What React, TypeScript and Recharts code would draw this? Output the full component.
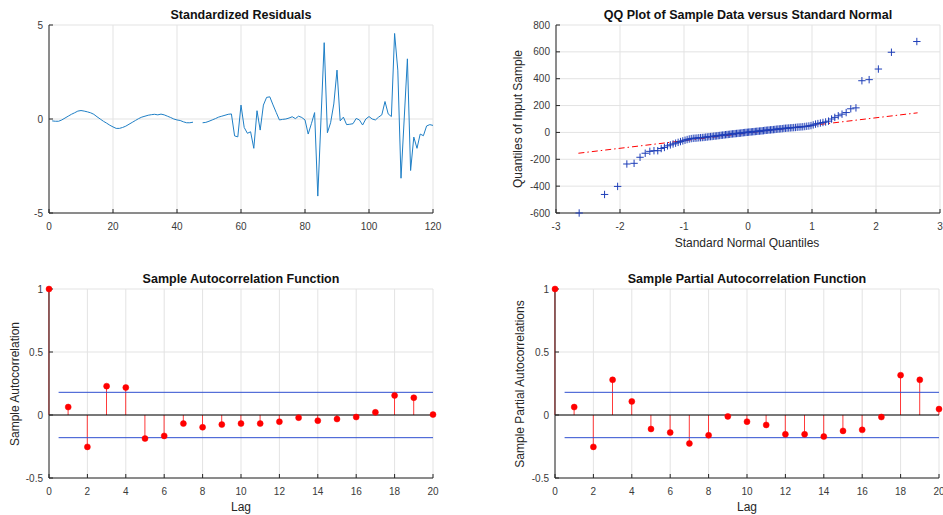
import React from 'react';
import {
  LineChart,
  Line,
  XAxis,
  YAxis,
  CartesianGrid,
  ScatterChart,
  Scatter,
  ComposedChart,
  Bar,
  ReferenceLine,
  ReferenceArea,
} from 'recharts';

const FONT = '"Liberation Sans", Arial, Helvetica, sans-serif';

// ---------- Standardized residuals (t = 1..120, null = gap) ----------
const residuals: (number | null)[] = [
  -0.10, -0.12, -0.12, -0.05, 0.05, 0.15, 0.25, 0.33, 0.42, 0.45,
  0.42, 0.38, 0.33, 0.25, 0.12, 0.00, -0.12, -0.22, -0.33, -0.42,
  -0.50, -0.50, -0.45, -0.38, -0.28, -0.18, -0.08, 0.02, 0.10, 0.15,
  0.20, 0.23, 0.25, 0.22, 0.26, 0.22, 0.15, 0.08, 0.00, -0.05,
  -0.08, -0.15, -0.20, -0.20, -0.17, null, null, -0.20, -0.18, -0.12,
  -0.05, 0.02, 0.10, 0.15, 0.20, 0.25, 0.27, -0.90, -0.95, 0.74,
  -0.45, -0.76, -0.68, -1.56, 0.44, -0.59, 0.74, 1.15, 1.18, 0.75,
  0.35, -0.05, -0.02, 0.00, 0.05, 0.12, 0.02, 0.15, 0.08, -0.05,
  -0.80, -0.25, 0.34, -4.10, 0.00, 4.06, -0.73, -0.20, 0.80, 2.60,
  -0.10, 0.10, -0.30, -0.28, -0.25, 0.03, -0.05, -0.32, 0.00, 0.13,
  0.00, -0.05, 0.10, 0.22, 0.93, 0.27, 0.13, 4.55, 2.60, -3.15,
  0.00, 3.20, -2.74, -0.96, -1.56, -0.80, -0.89, -0.37, -0.30, -0.34,
];
const resXTicks = [0, 20, 40, 60, 80, 100, 120];
const resYTicks = [-5, 0, 5];

// ---------- QQ plot ----------
const qqX = [
  -2.638, -2.241, -2.037, -1.893, -1.780, -1.687, -1.606, -1.534, -1.469, -1.410,
  -1.356, -1.306, -1.258, -1.213, -1.171, -1.131, -1.092, -1.055, -1.019, -0.984,
  -0.951, -0.918, -0.887, -0.856, -0.827, -0.798, -0.769, -0.741, -0.714, -0.687,
  -0.661, -0.636, -0.610, -0.585, -0.561, -0.536, -0.512, -0.489, -0.466, -0.442,
  -0.419, -0.397, -0.374, -0.352, -0.330, -0.308, -0.286, -0.264, -0.243, -0.221,
  -0.200, -0.179, -0.157, -0.136, -0.115, -0.094, -0.073, -0.052, -0.031, -0.010,
  0.010, 0.031, 0.052, 0.073, 0.094, 0.115, 0.136, 0.157, 0.179, 0.200,
  0.221, 0.243, 0.264, 0.286, 0.308, 0.330, 0.352, 0.374, 0.397, 0.419,
  0.442, 0.466, 0.489, 0.512, 0.536, 0.561, 0.585, 0.610, 0.636, 0.661,
  0.687, 0.714, 0.741, 0.769, 0.798, 0.827, 0.856, 0.887, 0.918, 0.951,
  0.984, 1.019, 1.055, 1.092, 1.131, 1.171, 1.213, 1.258, 1.306, 1.356,
  1.410, 1.469, 1.534, 1.606, 1.687, 1.780, 1.893, 2.037, 2.241, 2.638,
];
const qqY = [
  -600, -462, -402, -235, -230, -185, -155, -141, -136, -136,
  -120, -112, -100, -93, -86, -80, -74, -68, -63, -58,
  -53, -49, -46, -44, -43, -42, -40, -39, -38, -37,
  -35, -34, -32, -31, -30, -28, -27, -26, -24, -23,
  -21, -20, -19, -17, -16, -15, -14, -12, -11, -10,
  -9, -8, -7, -6, -5, -3, -2, -1, 0, 1,
  2, 3, 4, 5, 6, 7, 8, 9, 10, 11,
  12, 13, 15, 16, 17, 18, 19, 20, 21, 22,
  24, 25, 26, 27, 28, 30, 31, 32, 33, 34,
  35, 36, 37, 39, 40, 41, 42, 44, 46, 48,
  51, 56, 62, 66, 70, 74, 78, 84, 100, 112,
  124, 136, 148, 176, 183, 385, 393, 472, 597, 677,
];
const qqFitX = [-2.65, 2.65];
const qqFitY = [-155, 146];
const qqXTicks = [-3, -2, -1, 0, 1, 2, 3];
const qqYTicks = [-600, -400, -200, 0, 200, 400, 600, 800];

// ---------- ACF / PACF ----------
const lags = [0, 1, 2, 3, 4, 5, 6, 7, 8, 9, 10, 11, 12, 13, 14, 15, 16, 17, 18, 19, 20];
const acfValues = [
  1, 0.063, -0.253, 0.229, 0.218, -0.187, -0.166, -0.068, -0.097, -0.076,
  -0.068, -0.068, -0.053, -0.021, -0.045, -0.032, -0.016, 0.021, 0.155, 0.137, 0.003,
];
const pacfValues = [
  1, 0.063, -0.253, 0.279, 0.108, -0.111, -0.139, -0.226, -0.161, -0.011,
  -0.053, -0.079, -0.153, -0.153, -0.171, -0.126, -0.118, -0.016, 0.316, 0.279, 0.047,
];
const confBound = [0.18, -0.18];
const confLagRange = [0.5, 20];
const lagTicks = [0, 2, 4, 6, 8, 10, 12, 14, 16, 18, 20];
const corrYTicks = [-0.5, 0, 0.5, 1];

// ---------- derived tables ----------
const resData = residuals.map((r, i) => ({ t: i + 1, r }));
const qqData = qqX.map((x, i) => ({ x, y: qqY[i] }));
const acfData = lags.map((lag, i) => ({ lag, v: acfValues[i] }));
const pacfData = lags.map((lag, i) => ({ lag, v: pacfValues[i] }));

const BOX = '#262626';
const GRID = '#e3e3e3';
const TICK = { fontSize: 10, fill: '#3a3a3a', fontFamily: FONT };
const LINE_BLUE = '#1f7fc6';
const MARK_BLUE = '#1f3fb8';
const RED = '#ff0000';
const STEM_RED = '#ff3a3a';
const CONF_BLUE = '#2f4fd0';

const Plus = (props: any) => {
  const { cx, cy } = props;
  if (cx == null || cy == null) return null;
  const h = 3.7;
  return (
    <g>
      <line x1={cx - h} x2={cx + h} y1={cy} y2={cy} stroke={MARK_BLUE} strokeWidth={1} />
      <line x1={cx} x2={cx} y1={cy - h} y2={cy + h} stroke={MARK_BLUE} strokeWidth={1} />
    </g>
  );
};

// bottom / left axes: inward tick marks, labels outside
const xAxisCommon = {
  type: 'number' as const,
  tick: TICK,
  tickLine: { stroke: BOX },
  axisLine: { stroke: BOX },
  tickSize: -4,
  tickMargin: 14,
  height: 20,
  interval: 0 as const,
};
const yAxisCommon = {
  type: 'number' as const,
  tick: TICK,
  tickLine: { stroke: BOX },
  axisLine: { stroke: BOX },
  tickSize: -4,
  tickMargin: 10,
  interval: 0 as const,
};
// top / right axes: just box edges with inward ticks
const xTopCommon = {
  xAxisId: 'top',
  orientation: 'top' as const,
  type: 'number' as const,
  tick: false,
  tickLine: { stroke: BOX },
  axisLine: { stroke: BOX },
  tickSize: -4,
  height: 0,
  interval: 0 as const,
};
const yRightCommon = {
  yAxisId: 'right',
  orientation: 'right' as const,
  type: 'number' as const,
  tick: false,
  tickLine: { stroke: BOX },
  axisLine: { stroke: BOX },
  tickSize: -4,
  width: 0,
  interval: 0 as const,
};

function CorrPanel({ data, yWidth, right }: { data: { lag: number; v: number }[]; yWidth: number; right: number }) {
  return (
    <ComposedChart width={yWidth + 384 + right} height={255} data={data} margin={{ top: 29, right, bottom: 17, left: 0 }}>
      <CartesianGrid stroke={GRID} />
      <XAxis dataKey="lag" domain={[0, 20]} ticks={lagTicks} {...xAxisCommon} />
      <XAxis {...xTopCommon} domain={[0, 20]} ticks={lagTicks} />
      <YAxis domain={[-0.5, 1]} ticks={corrYTicks} width={yWidth} {...yAxisCommon} />
      <YAxis {...yRightCommon} domain={[-0.5, 1]} ticks={corrYTicks} />
      <ReferenceLine
        segment={[{ x: confLagRange[0], y: confBound[0] }, { x: confLagRange[1], y: confBound[0] }]}
        stroke={CONF_BLUE}
        strokeWidth={1}
      />
      <ReferenceLine
        segment={[{ x: confLagRange[0], y: confBound[1] }, { x: confLagRange[1], y: confBound[1] }]}
        stroke={CONF_BLUE}
        strokeWidth={1}
      />
      <ReferenceLine y={0} stroke="#000" strokeWidth={1} />
      <Bar dataKey="v" barSize={1} fill={STEM_RED} isAnimationActive={false} />
      <Line
        dataKey="v"
        stroke="none"
        dot={{ r: 3, fill: RED, stroke: RED, strokeWidth: 0.5 }}
        activeDot={false}
        isAnimationActive={false}
      />
    </ComposedChart>
  );
}

export default function App() {
  return (
    <div style={{ position: 'absolute', left: 0, top: 0, width: 943, height: 515, background: '#fff', overflow: 'hidden', fontFamily: FONT }}>
      {/* Standardized residuals */}
      <div style={{ position: 'absolute', left: 0, top: 0 }}>
        <LineChart width={470} height={250} data={resData} margin={{ top: 25, right: 37, bottom: 17, left: 0 }}>
          <CartesianGrid stroke={GRID} />
          <XAxis dataKey="t" domain={[0, 120]} ticks={resXTicks} {...xAxisCommon} />
          <XAxis {...xTopCommon} domain={[0, 120]} ticks={resXTicks} />
          <YAxis domain={[-5, 5]} ticks={resYTicks} width={49} {...yAxisCommon} />
          <YAxis {...yRightCommon} domain={[-5, 5]} ticks={resYTicks} />
          <Line dataKey="r" stroke={LINE_BLUE} strokeWidth={1} dot={false} activeDot={false} connectNulls={false} isAnimationActive={false} />
        </LineChart>
      </div>

      {/* QQ plot */}
      <div style={{ position: 'absolute', left: 470, top: 0 }}>
        <ScatterChart width={473} height={250} margin={{ top: 25, right: 3, bottom: 17, left: 0 }}>
          <CartesianGrid stroke={GRID} />
          <XAxis dataKey="x" domain={[-3, 3]} ticks={qqXTicks} {...xAxisCommon} />
          <XAxis {...xTopCommon} domain={[-3, 3]} ticks={qqXTicks} />
          <YAxis dataKey="y" domain={[-600, 800]} ticks={qqYTicks} width={86} {...yAxisCommon} />
          <YAxis {...yRightCommon} domain={[-600, 800]} ticks={qqYTicks} />
          <ReferenceLine
            segment={[{ x: qqFitX[0], y: qqFitY[0] }, { x: qqFitX[1], y: qqFitY[1] }]}
            stroke={RED}
            strokeWidth={1}
            strokeDasharray="6 3 1.5 3"
          />
          <Scatter data={qqData} shape={Plus} isAnimationActive={false} />
        </ScatterChart>
      </div>

      {/* ACF */}
      <div style={{ position: 'absolute', left: 0, top: 260 }}>
        <CorrPanel data={acfData} yWidth={49} right={37} />
      </div>

      {/* PACF */}
      <div style={{ position: 'absolute', left: 470, top: 260 }}>
        <CorrPanel data={pacfData} yWidth={85} right={4} />
      </div>

      {/* Titles and axis labels */}
      <svg width={943} height={515} style={{ position: 'absolute', left: 0, top: 0, pointerEvents: 'none' }}>
        <g fontFamily={FONT} fontWeight="bold" fontSize={12.5} fill="#111" textAnchor="middle">
          <text x={241} y={19}>Standardized Residuals</text>
          <text x={748} y={19}>QQ Plot of Sample Data versus Standard Normal</text>
          <text x={241} y={282.5}>Sample Autocorrelation Function</text>
          <text x={747} y={282.5}>Sample Partial Autocorrelation Function</text>
        </g>
        <g fontFamily={FONT} fontSize={12} fill="#262626" textAnchor="middle">
          <text x={747} y={247}>Standard Normal Quantiles</text>
          <text x={241} y={511}>Lag</text>
          <text x={747} y={511}>Lag</text>
          <text transform="translate(521.5,119) rotate(-90)">Quantiles of Input Sample</text>
          <text transform="translate(19,384) rotate(-90)">Sample Autocorrelation</text>
          <text transform="translate(523.5,384) rotate(-90)">Sample Partial Autocorrelations</text>
        </g>
      </svg>
    </div>
  );
}
